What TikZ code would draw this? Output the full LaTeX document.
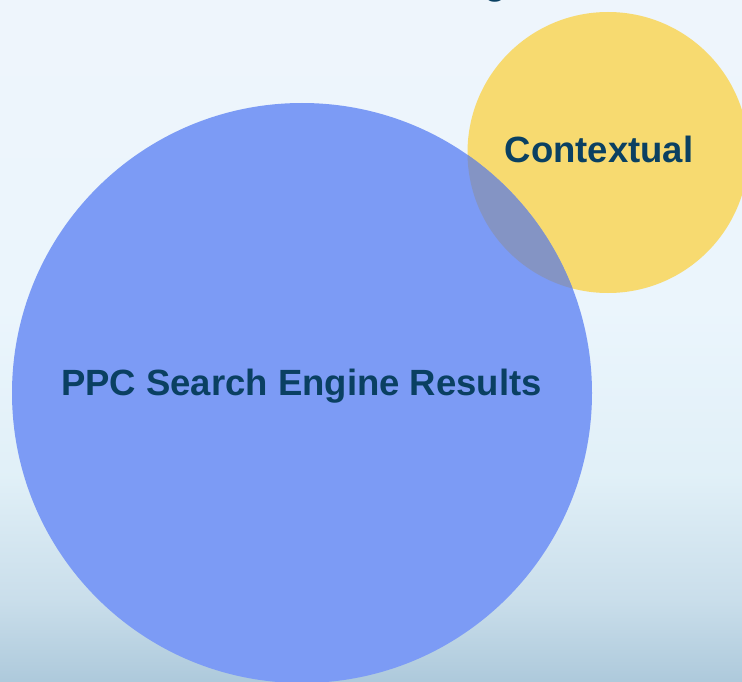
\documentclass[tikz,border=0pt]{standalone}
\usepackage{fontspec}
\setmainfont{Liberation Sans}
\definecolor{bluefill}{RGB}{124,155,245}
\definecolor{yellowfill}{RGB}{247,218,112}
\definecolor{overlapfill}{RGB}{132,148,196}
\definecolor{textblue}{RGB}{10,64,98}
\pgfdeclareverticalshading{bgshade}{100bp}{%
  rgb(0bp)=(0.68,0.79,0.86);
  rgb(25bp)=(0.68,0.79,0.86);
  rgb(31bp)=(0.79,0.87,0.92);
  rgb(40bp)=(0.88,0.94,0.97);
  rgb(52bp)=(0.92,0.96,0.99);
  rgb(75bp)=(0.935,0.96,0.99);
  rgb(100bp)=(0.935,0.96,0.99)}
\tikzset{
  circlabel/.style={font=\bfseries\fontsize{36.5}{40}\selectfont, text=textblue, inner sep=0pt}
}
\begin{document}
\begin{tikzpicture}[x=1pt,y=-1pt]
  \useasboundingbox (0,0) rectangle (742,682);
  \shade[shading=bgshade] (0,0) rectangle (742,682);
  \begin{scope}
    \clip (0,0) rectangle (742,682);
    \fill[yellowfill] (608,152.5) circle (140.5);
    \fill[bluefill] (302,393) circle (290);
    \begin{scope}
      \clip (608,152.5) circle (140.5);
      \fill[overlapfill] (302,393) circle (290);
    \end{scope}
    \node[circlabel, anchor=base] (title) at (495.5,-5) {g};
  \end{scope}
  \node[circlabel] (ctx) at (599,149) {Contextual};
  \node[circlabel] (ppc) at (301.5,386) {PPC Search Engine Results};
\end{tikzpicture}
\end{document}
